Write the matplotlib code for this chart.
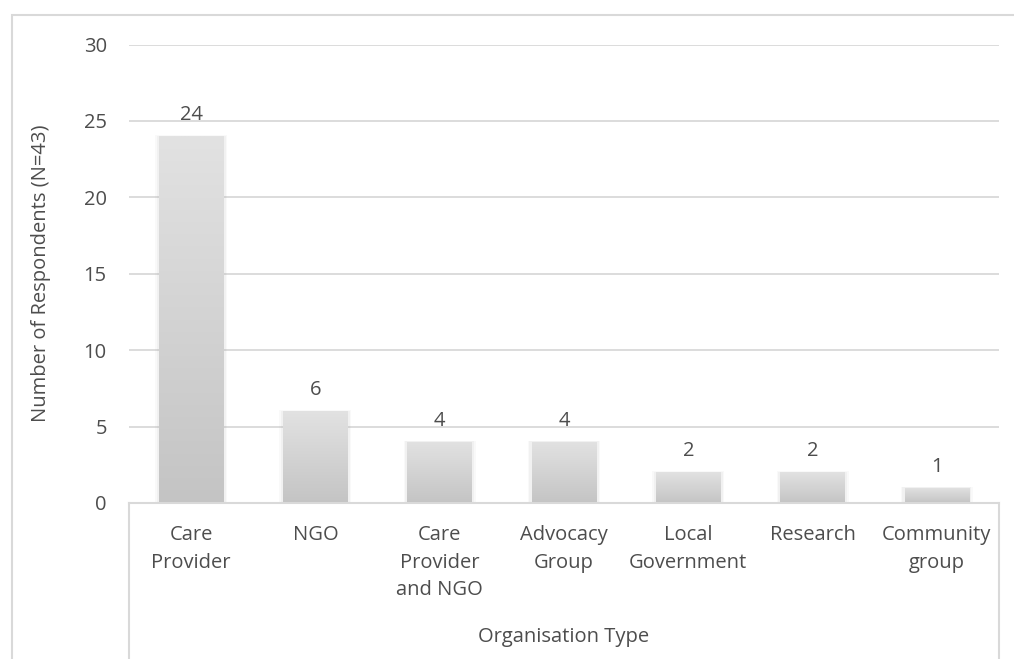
import matplotlib
matplotlib.use("Agg")
import matplotlib.pyplot as plt
import numpy as np
from matplotlib.lines import Line2D
from matplotlib.patches import Rectangle

categories = ["Care\nProvider", "NGO", "Care\nProvider\nand NGO", "Advocacy\nGroup",
              "Local\nGovernment", "Research", "Community\ngroup"]
counts = [24, 6, 4, 4, 2, 2, 1]
y_ticks = [0, 5, 10, 15, 20, 25, 30]
x_title = "Organisation Type"
y_title = "Number of Respondents (N=43)"

plt.rcParams['font.family'] = ['Open Sans', 'DejaVu Sans']
TXT = "#4d4d4d"
GRID = "#d9d9d9"
FS = 14.5

W, H = 1014, 659
fig = plt.figure(figsize=(W / 100, H / 100), dpi=100)
fig.patch.set_facecolor("white")

# outer chart border (cropped on right and bottom)
fig.add_artist(Rectangle((12 / W, -0.1), 1.1, (H - 15) / H + 0.1,
                         transform=fig.transFigure, fill=False,
                         edgecolor=GRID, linewidth=1.5))

ax_l, ax_r, ax_b, ax_t = 129, 999, 503, 44.5
ax = fig.add_axes([ax_l / W, (H - ax_b) / H, (ax_r - ax_l) / W, (ax_b - ax_t) / H])
ax.set_facecolor("none")

x = np.arange(len(categories))
ax.set_yticks(y_ticks)
ax.yaxis.grid(True, color=GRID, linewidth=1.3)
ax.set_axisbelow(True)
for s in ax.spines.values():
    s.set_visible(False)
ax.tick_params(axis='y', length=0, labelsize=FS, labelcolor=TXT, pad=16)
ax.tick_params(axis='x', length=0, labelsize=FS, labelcolor=TXT, pad=16)
ax.set_xticks(x)
ax.set_xticklabels(categories, linespacing=1.5)

bw = 0.52
cmap = matplotlib.colors.LinearSegmentedColormap.from_list("g", ["#c4c4c4", "#e2e2e2"])
grad = np.linspace(0, 1, 256).reshape(-1, 1)
bars = ax.bar(x, counts, width=bw, color="none", edgecolor="none", zorder=3)
for b, v in zip(bars, counts):
    x0 = b.get_x()
    # soft shadow
    for k, a in [(0.03, 0.06), (0.018, 0.08)]:
        sh = Rectangle((x0 - k, 0), bw + 2 * k, v + k * 2.5, facecolor="#999999",
                       edgecolor="none", alpha=a, zorder=2)
        ax.add_patch(sh)
    im = ax.imshow(grad, extent=(x0, x0 + bw, 0, v), origin="lower", cmap=cmap,
                   aspect="auto", zorder=3, interpolation="bilinear")
    im.set_clip_path(b)
    ax.annotate(str(v), (b.get_x() + bw / 2, v), xytext=(0, 8),
                textcoords="offset points", ha="center", va="bottom",
                fontsize=FS, color=TXT)
ax.set_xlim(-0.5, len(categories) - 0.5)
ax.set_ylim(0, 30)

# category axis box lines
fig.add_artist(Line2D([ax_l / W, ax_r / W], [(H - ax_b) / H] * 2,
                      transform=fig.transFigure, color=GRID, linewidth=1.5))
for xx in (ax_l, ax_r):
    fig.add_artist(Line2D([xx / W, xx / W], [(H - ax_b) / H, -0.01],
                          transform=fig.transFigure, color=GRID, linewidth=1.5))

fig.text((ax_l + ax_r) / 2 / W, (H - 637) / H, x_title, ha="center", va="center",
         fontsize=FS, color=TXT)
fig.text(41 / W, (H - (ax_b + ax_t) / 2) / H, y_title, ha="center", va="center",
         rotation=90, fontsize=FS, color=TXT)

fig.savefig("out.png", dpi=100)
